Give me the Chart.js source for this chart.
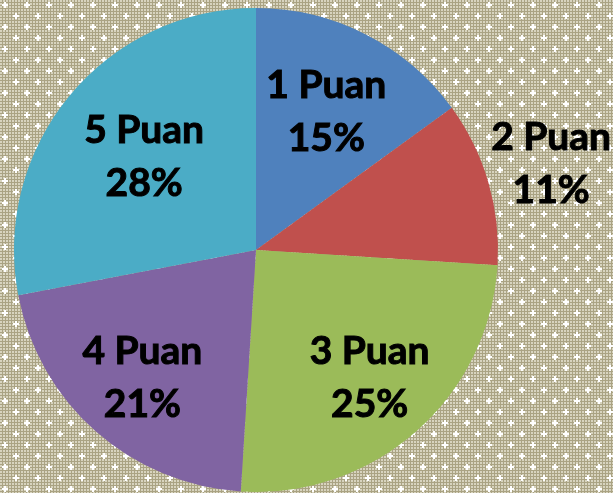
<!DOCTYPE html>
<html>
<head>
<meta charset="utf-8">
<script src="https://cdn.jsdelivr.net/npm/chart.js@4"></script>
<style>
  html, body { margin: 0; padding: 0; }
  #wrap { width: 613px; height: 493px; }
</style>
</head>
<body>
<div id="wrap"><canvas id="pieChart"></canvas></div>
<script>
const categories = ["1 Puan", "2 Puan", "3 Puan", "4 Puan", "5 Puan"];
const percents = [15, 11, 25, 21, 28];
const sliceColors = ["#4f81bd", "#c0504d", "#9bbb59", "#8064a2", "#4bacc6"];
// how far out (fraction of radius) each label sits
const labelRadius = [0.64, 1.27, 0.71, 0.71, 0.60];

function makeBackgroundPattern(ctx) {
    const size = 66;
    const tile = document.createElement("canvas");
    tile.width = size;
    tile.height = size;
    const t = tile.getContext("2d");
    t.fillStyle = "#aaa383";
    t.fillRect(0, 0, size, size);
    t.fillStyle = "#d8d4bf";
    for (let y = 0; y < size; y += 3) {
        for (let x = 0; x < size; x += 3) {
            t.fillRect(x, y, 2, 2);
        }
    }
    // little white sparkles, staggered rows
    t.fillStyle = "#ffffff";
    for (let row = 0; row < 6; row++) {
        for (let col = 0; col < 3; col++) {
            const cx = col * 22 + (row % 2 ? 16 : 5);
            const cy = row * 11 + 5;
            t.fillRect(cx - 1, cy - 3, 2, 6);
            t.fillRect(cx - 3, cy - 1, 6, 2);
        }
    }
    return ctx.createPattern(tile, "repeat");
}

const backgroundPlugin = {
    id: "patternBackground",
    beforeDraw(chart) {
        const ctx = chart.ctx;
        ctx.save();
        ctx.fillStyle = makeBackgroundPattern(ctx);
        ctx.fillRect(0, 0, chart.width, chart.height);
        ctx.restore();
    },
};

const labelPlugin = {
    id: "sliceLabels",
    afterDatasetsDraw(chart) {
        const ctx = chart.ctx;
        const meta = chart.getDatasetMeta(0);
        ctx.save();
        ctx.fillStyle = "#000000";
        ctx.strokeStyle = "#000000";
        ctx.lineWidth = 1;
        ctx.font = "bold 39px Lato, 'Open Sans', sans-serif";
        ctx.textAlign = "center";
        ctx.textBaseline = "middle";
        meta.data.forEach((arc, i) => {
            const mid = (arc.startAngle + arc.endAngle) / 2;
            const r = arc.outerRadius * labelRadius[i];
            const x = arc.x + Math.cos(mid) * r;
            const y = arc.y + Math.sin(mid) * r;
            ctx.fillText(categories[i], x, y - 27);
            ctx.strokeText(categories[i], x, y - 27);
            ctx.fillText(percents[i] + "%", x, y + 26);
            ctx.strokeText(percents[i] + "%", x, y + 26);
        });
        ctx.restore();
    },
};

new Chart(document.getElementById("pieChart"), {
    type: "pie",
    data: {
        labels: categories,
        datasets: [
            {
                data: percents,
                backgroundColor: sliceColors,
                borderWidth: 0,
            },
        ],
    },
    options: {
        responsive: true,
        maintainAspectRatio: false,
        animation: false,
        layout: {
            padding: { left: 14, right: 115, top: 8, bottom: 1 },
        },
        plugins: {
            legend: { display: false },
            tooltip: { enabled: false },
        },
    },
    plugins: [backgroundPlugin, labelPlugin],
});
</script>
</body>
</html>
